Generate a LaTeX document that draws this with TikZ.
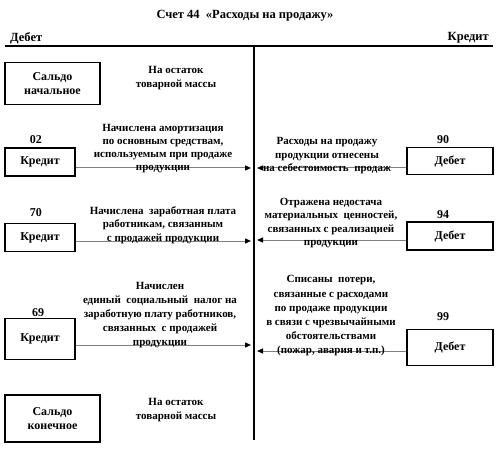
\documentclass[tikz,border=0pt]{standalone}
\usepackage{fontspec}
\setmainfont{Liberation Serif}
\usetikzlibrary{arrows.meta}
\tikzset{
  acct/.style={draw, line width=1.4pt, minimum width=70pt, minimum height=28pt, inner sep=0pt, font=\fontsize{12}{13}\selectfont\bfseries},
  saldo/.style={draw, line width=1.4pt, minimum width=95pt, minimum height=42pt, inner sep=0pt, align=center, font=\fontsize{12}{13.5}\selectfont\bfseries},
  lbl/.style={align=center, inner sep=0pt, font=\fontsize{11}{13.5}\selectfont\bfseries},
  num/.style={inner sep=0pt, font=\fontsize{12}{13}\selectfont\bfseries},
  flow/.style={draw=gray, line width=1pt, -{Triangle[color=black, length=6pt, width=5pt]}},
  rule/.style={line width=1.5pt}
}
\begin{document}
\begin{tikzpicture}[x=1pt, y=-1pt]
\useasboundingbox (0,0) rectangle (499,452);
% header
\node[inner sep=0pt, font=\fontsize{12.5}{14}\selectfont\bfseries] (title) at (245,16) {Счет 44 \ «Расходы на продажу»};
\node[inner sep=0pt, anchor=west, font=\fontsize{12.5}{14}\selectfont\bfseries] (deb) at (10,38) {Дебет};
\node[inner sep=0pt, anchor=east, font=\fontsize{12.5}{14}\selectfont\bfseries] (kred) at (489,38) {Кредит};
\coordinate (hl) at (5,46);
\coordinate (hr) at (493,46);
\coordinate (vt) at (254,46);
\coordinate (vb) at (254,440);
\draw[rule] (hl) -- (hr);
\draw[rule] (vt) -- (vb);
% saldo start
\node[saldo] (s1) at (52.5,83.5) {Сальдо\\начальное};
\node[lbl] (s1t) at (176,78) {На остаток\\товарной массы};
% row 1
\node[num] (n02) at (36,140) {02};
\node[acct] (k02) at (40,162) {Кредит};
\node[num] (n90) at (443,140) {90};
\node[acct, minimum width=86pt, minimum height=27pt] (d90) at (450,161) {Дебет};
\coordinate (a1) at (251,168);
\coordinate (b1) at (257,168);
\draw[flow] (k02.east |- a1) -- (a1);
\draw[flow] (d90.west |- b1) -- (b1);
\node[lbl, font=\fontsize{11}{13}\selectfont\bfseries] (t02) at (163,149) {Начислена амортизация\\по основным средствам,\\используемым при продаже\\продукции};
\node[lbl] (t90) at (327,156) {Расходы на продажу\\продукции отнесены\\на себестоимость \ продаж};
% row 2
\node[num] (n70) at (36,213) {70};
\node[acct] (k70) at (40,237.5) {Кредит};
\node[num] (n94) at (443,215) {94};
\node[acct, minimum width=86pt] (d94) at (450,236) {Дебет};
\coordinate (a2) at (251,241);
\coordinate (b2) at (257,240);
\draw[flow] (k70.east |- a2) -- (a2);
\draw[flow] (d94.west |- b2) -- (b2);
\node[lbl] (t70) at (163,225) {Начислена \ заработная плата\\работникам, связанным\\с продажей продукции};
\node[lbl] (t94) at (331,223) {Отражена недостача\\материальных \ ценностей,\\связанных с реализацией\\продукции};
% row 3
\node[num] (n69) at (38,313) {69};
\node[acct, minimum height=41pt] (k69) at (40,339) {Кредит};
\node[num] (n99) at (443,317) {99};
\node[acct, minimum width=86pt, minimum height=36pt] (d99) at (450,347.5) {Дебет};
\coordinate (a3) at (251,345);
\coordinate (b3) at (257,351);
\draw[flow] (k69.east |- a3) -- (a3);
\draw[flow] (d99.west |- b3) -- (b3);
\node[lbl, font=\fontsize{11}{14}\selectfont\bfseries] (t69) at (160,315) {Начислен\\единый \ социальный \ налог на\\заработную плату работников,\\связанных \ с продажей\\продукции};
\node[lbl, font=\fontsize{11}{14.2}\selectfont\bfseries] (t99) at (331,316) {Списаны \ потери,\\связанные с расходами\\по продаже продукции\\в связи с чрезвычайными\\обстоятельствами\\(пожар, авария и т.п.)};
% saldo end
\node[saldo, minimum height=47pt] (s2) at (52.5,418.5) {Сальдо\\конечное};
\node[lbl] (s2t) at (176,410) {На остаток\\товарной массы};
\end{tikzpicture}
\end{document}
